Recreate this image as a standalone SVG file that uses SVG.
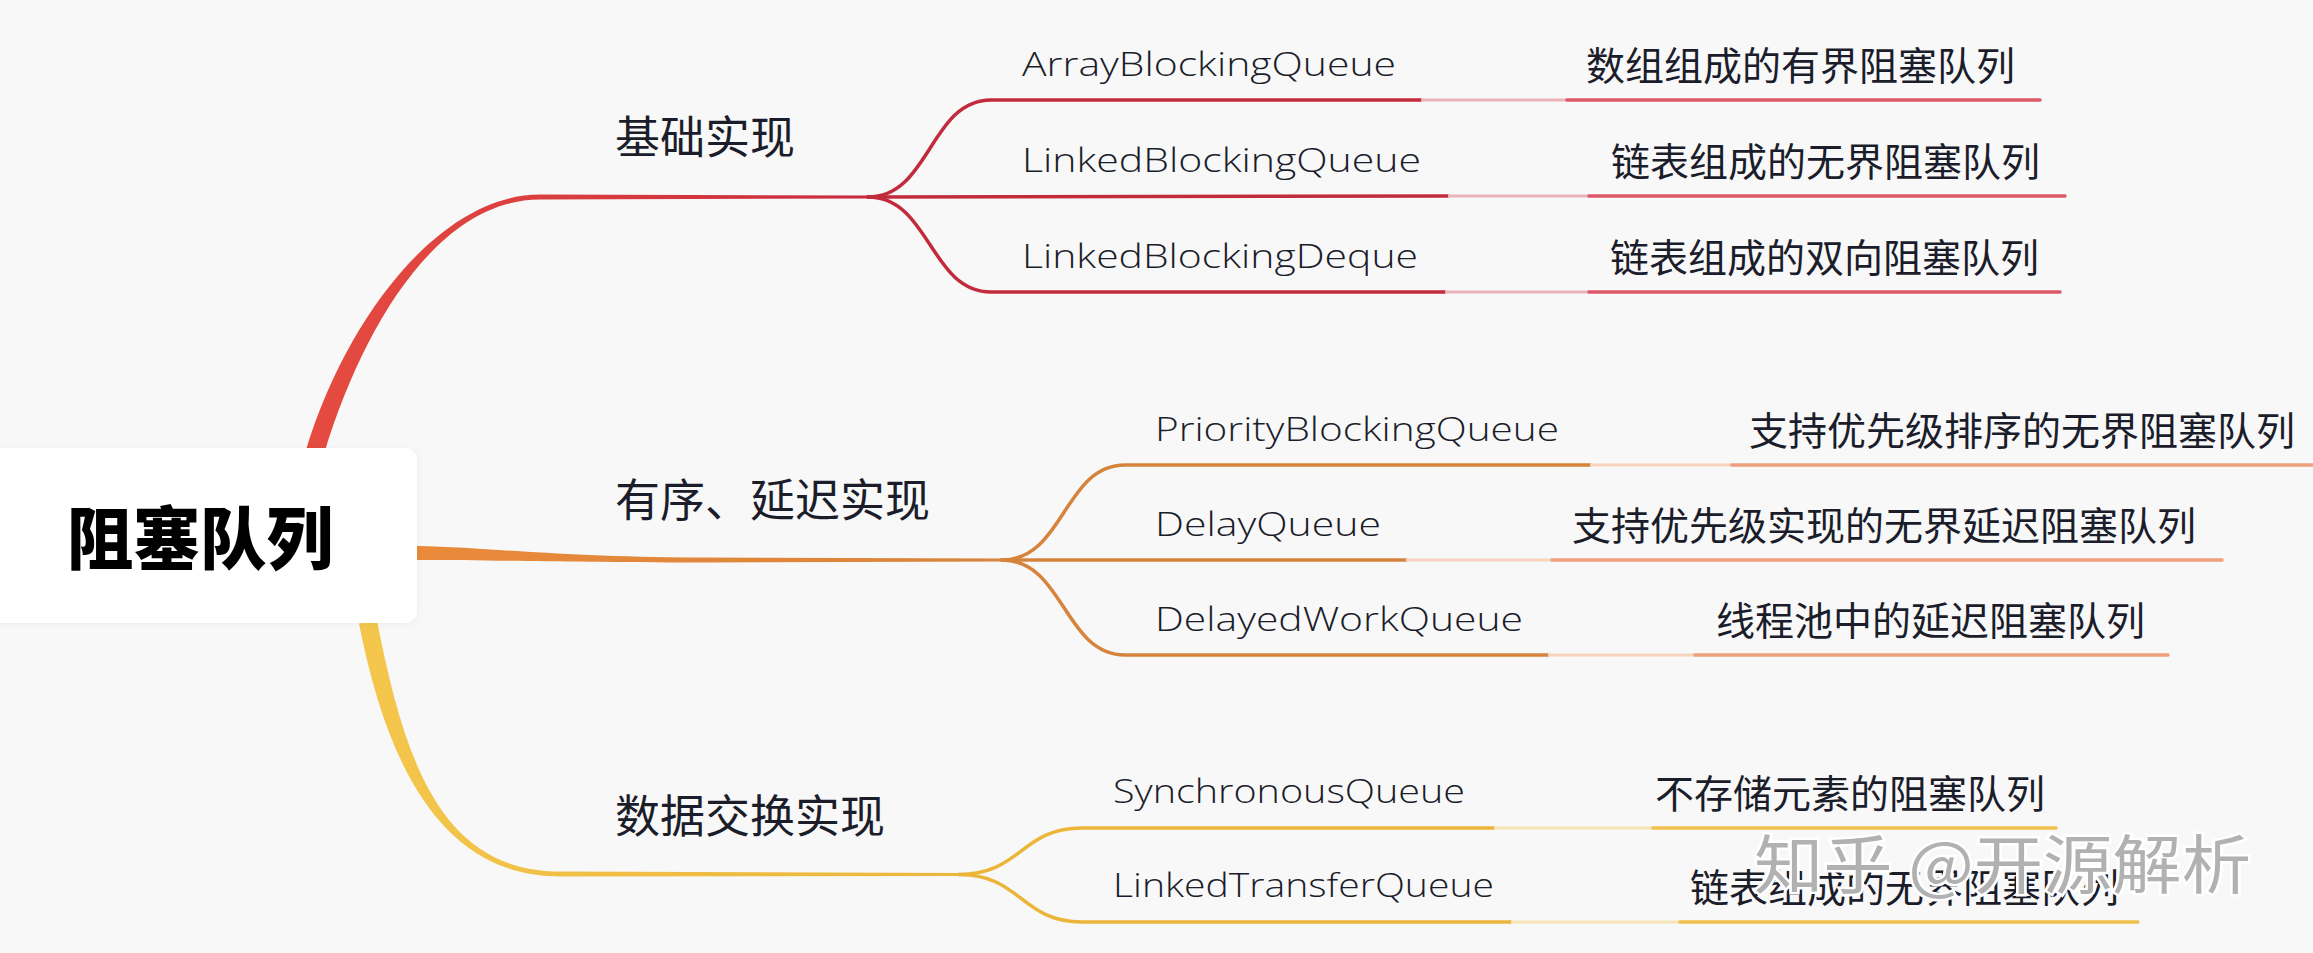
<svg xmlns="http://www.w3.org/2000/svg" width="2313" height="953" viewBox="0 0 2313 953">
<defs>
<linearGradient id="gRed" gradientUnits="userSpaceOnUse" x1="300" y1="0" x2="880" y2="0"><stop offset="0" stop-color="#e64c40"/><stop offset="1" stop-color="#c92b3e"/></linearGradient>
<linearGradient id="gOrange" gradientUnits="userSpaceOnUse" x1="417" y1="0" x2="1005" y2="0"><stop offset="0" stop-color="#ea8a3a"/><stop offset="1" stop-color="#d8843c"/></linearGradient>
<linearGradient id="gYellow" gradientUnits="userSpaceOnUse" x1="360" y1="0" x2="962" y2="0"><stop offset="0" stop-color="#f4c64c"/><stop offset="1" stop-color="#ebb63c"/></linearGradient>
<filter id="sh" x="-10%" y="-20%" width="120%" height="140%"><feDropShadow dx="0" dy="1" stdDeviation="3" flood-color="#000" flood-opacity="0.05"/></filter>
<style>
.root{font-family:"Noto Sans CJK SC","Noto Sans",sans-serif;font-weight:900;font-size:68px;fill:#000}
.l1{font-family:"Noto Sans CJK SC","Noto Sans",sans-serif;font-size:45px;fill:#1b1d2b}
.nm{font-family:"Open Sans","Noto Sans","Liberation Sans",sans-serif;font-weight:300;font-size:33px;fill:#1b1d2b}
.ds{font-family:"Noto Sans CJK SC","Noto Sans",sans-serif;font-size:39px;fill:#1b1d2b}
.wm{font-family:"Noto Sans CJK SC","Noto Sans",sans-serif;font-size:64px;fill:#a9a9a9;fill-opacity:0.9;stroke:#ffffff;stroke-width:5;paint-order:stroke}
.cr{fill:none;stroke:#c22b3c;stroke-width:3.5;stroke-linecap:round}
.lr{fill:none;stroke:#ecb3bb;stroke-width:3}
.dr{fill:none;stroke:#dc5a68;stroke-width:3.5;stroke-linecap:round}
.co{fill:none;stroke:#d6843c;stroke-width:3.5;stroke-linecap:round}
.lo{fill:none;stroke:#f6d3bd;stroke-width:3}
.do{fill:none;stroke:#ee9f7c;stroke-width:3.5;stroke-linecap:round}
.cy{fill:none;stroke:#ebb53a;stroke-width:3.5;stroke-linecap:round}
.ly{fill:none;stroke:#f6e4b4;stroke-width:3}
.dy{fill:none;stroke:#efc04e;stroke-width:3.5;stroke-linecap:round}
</style>
</defs>
<rect x="0" y="0" width="2313" height="953" fill="#f8f8f8"/>
<g id="connectors">
<path d="M 306 450 C 346 318, 440 194.5, 540 194.5 L 872 195.5 L 872 198.5 L 540 199.5 C 440 199.5, 364 322, 324 454 Z" fill="url(#gRed)"/>
<path d="M 417 546 C 500 548, 560 557, 700 557.5 L 1005 558.5 L 1005 561.5 L 700 562.5 C 560 562.5, 500 560, 417 560 Z" fill="url(#gOrange)"/>
<path d="M 359 623.5 C 386 761.5, 440 876.5, 560 876.5 L 962 876 L 962 873 L 560 871.5 C 440 871.5, 404 758.5, 377 620.5 Z" fill="url(#gYellow)"/>
<path class="cr" d="M 868 197 C 930 197, 930 100, 991 100 L 1421 100"/>
<path class="cr" d="M 868 197 L 1448 196"/>
<path class="cr" d="M 868 197 C 930 197, 930 292, 991 292 L 1445 292"/>
<path class="lr" d="M 1421 100 L 1567 100 M 1448 196 L 1589 196 M 1445 292 L 1589 292"/>
<path class="dr" d="M 1567 100 L 2040 100 M 1589 196 L 2065 196 M 1589 292 L 2060 292"/>
<path class="co" d="M 1002 560 C 1064 560, 1064 465, 1125 465 L 1590 465"/>
<path class="co" d="M 1002 560 L 1406 560"/>
<path class="co" d="M 1002 560 C 1064 560, 1064 655, 1125 655 L 1548 655"/>
<path class="lo" d="M 1590 465 L 1732 465 M 1406 560 L 1552 560 M 1548 655 L 1695 655"/>
<path class="do" d="M 1732 465 L 2313 465 M 1552 560 L 2222 560 M 1695 655 L 2168 655"/>
<path class="cy" d="M 959 874.5 C 1021 874.5, 1021 828, 1082 828 L 1494 828"/>
<path class="cy" d="M 959 874.5 C 1021 874.5, 1021 922, 1082 922 L 1511 922"/>
<path class="ly" d="M 1494 828 L 1653 828 M 1511 922 L 1680 922"/>
<path class="dy" d="M 1653 828 L 2056 828 M 1680 922 L 2138 922"/>
</g>
<g id="root">
<rect x="-12" y="448" width="429" height="175" rx="12" fill="#ffffff" filter="url(#sh)"/>
<text class="root" x="67" y="564" textLength="266" lengthAdjust="spacingAndGlyphs">阻塞队列</text>
</g>
<g id="n-basic"><text class="l1" x="615" y="154">基础实现</text></g>
<g id="n-ordered"><text class="l1" x="615" y="517">有序、延迟实现</text></g>
<g id="n-exchange"><text class="l1" x="615" y="833">数据交换实现</text></g>
<g id="n-abq"><text class="nm" x="1022" y="76" textLength="374" lengthAdjust="spacingAndGlyphs">ArrayBlockingQueue</text><text class="ds" x="1586" y="80">数组组成的有界阻塞队列</text></g>
<g id="n-lbq"><text class="nm" x="1022" y="172" textLength="399" lengthAdjust="spacingAndGlyphs">LinkedBlockingQueue</text><text class="ds" x="1611" y="176">链表组成的无界阻塞队列</text></g>
<g id="n-lbd"><text class="nm" x="1022" y="268" textLength="396" lengthAdjust="spacingAndGlyphs">LinkedBlockingDeque</text><text class="ds" x="1610" y="272">链表组成的双向阻塞队列</text></g>
<g id="n-pbq"><text class="nm" x="1155" y="441" textLength="404" lengthAdjust="spacingAndGlyphs">PriorityBlockingQueue</text><text class="ds" x="1749" y="445">支持优先级排序的无界阻塞队列</text></g>
<g id="n-dq"><text class="nm" x="1155" y="536" textLength="226" lengthAdjust="spacingAndGlyphs">DelayQueue</text><text class="ds" x="1572" y="540">支持优先级实现的无界延迟阻塞队列</text></g>
<g id="n-dwq"><text class="nm" x="1155" y="631" textLength="368" lengthAdjust="spacingAndGlyphs">DelayedWorkQueue</text><text class="ds" x="1716" y="635">线程池中的延迟阻塞队列</text></g>
<g id="n-sq"><text class="nm" x="1113" y="803" textLength="352" lengthAdjust="spacingAndGlyphs">SynchronousQueue</text><text class="ds" x="1655" y="808">不存储元素的阻塞队列</text></g>
<g id="n-ltq"><text class="nm" x="1113" y="897" textLength="381" lengthAdjust="spacingAndGlyphs">LinkedTransferQueue</text><text class="ds" x="1690" y="902">链表组成的无界阻塞队列</text></g>
<g id="watermark"><text class="wm" x="1754" y="888" textLength="497" lengthAdjust="spacingAndGlyphs">知乎 @开源解析</text></g>
</svg>
